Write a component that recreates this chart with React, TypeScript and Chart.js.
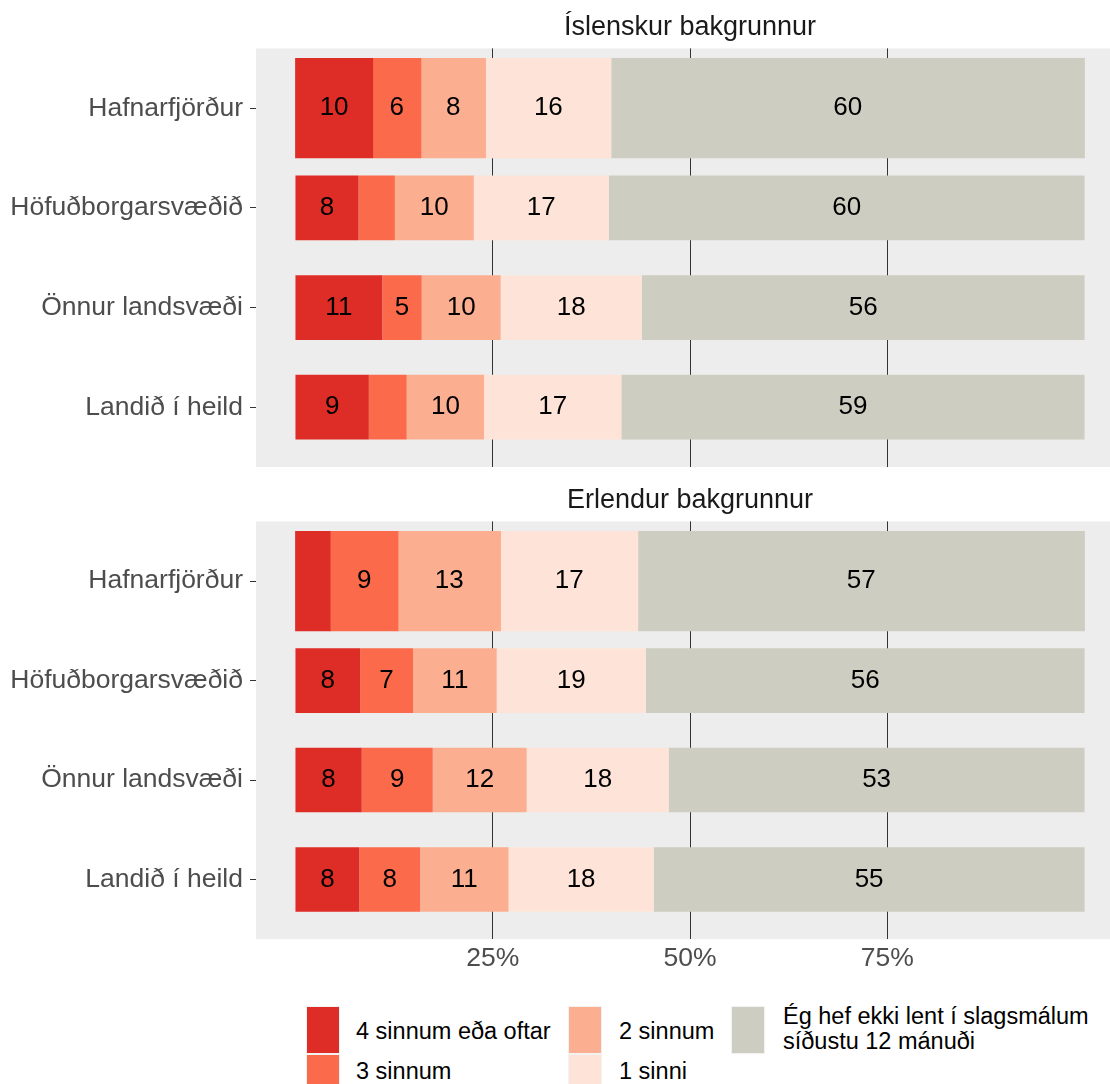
import React, { useEffect, useRef } from "react";
import { Chart, registerables } from "chart.js";

Chart.register(...registerables);

// ---------- data ----------
const categories = ["Hafnarfjörður", "Höfuðborgarsvæðið", "Önnur landsvæði", "Landið í heild"];
const wideCategory = "Hafnarfjörður";
const seriesNames = [
  "4 sinnum eða oftar",
  "3 sinnum",
  "2 sinnum",
  "1 sinni",
  "Ég hef ekki lent í slagsmálum síðustu 12 mánuði",
];
const panelTitles = ["Íslenskur bakgrunnur", "Erlendur bakgrunnur"];

// Íslenskur bakgrunnur (percent, category order)
const islenskur4plus = [9.8, 8.0, 11.0, 9.3];
const islenskur3 = [6.1, 4.6, 5.0, 4.8];
const islenskur2 = [8.2, 10.0, 10.0, 9.8];
const islenskur1 = [15.9, 17.1, 17.9, 17.4];
const islenskurNone = [60.0, 60.3, 56.1, 58.7];

// Erlendur bakgrunnur
const erlendur4plus = [4.4, 8.2, 8.4, 8.1];
const erlendur3 = [8.6, 6.7, 9.0, 7.7];
const erlendur2 = [13.0, 10.6, 11.9, 11.2];
const erlendur1 = [17.4, 18.9, 18.0, 18.4];
const erlendurNone = [56.6, 55.6, 52.7, 54.6];

const xTickValues = [25, 50, 75];
const labelMinValue = 4.9;

// ---------- styles ----------
const FONT = "'Liberation Sans', Arial, Helvetica, sans-serif";
const seriesColors = ["#de2d26", "#fb6a4a", "#fcae91", "#fee4d8", "#cdcdc1"];
const PANEL_BG = "#ededed";
const CANVAS_W = 1124;

const panelBgPlugin = {
  id: "panelBg",
  beforeDraw(chart: any) {
    const { ctx, chartArea } = chart;
    ctx.save();
    ctx.fillStyle = PANEL_BG;
    ctx.fillRect(chartArea.left, chartArea.top, chartArea.right - chartArea.left, chartArea.bottom - chartArea.top);
    ctx.restore();
  },
};

const barLabelPlugin = {
  id: "barLabels",
  afterDatasetsDraw(chart: any) {
    const { ctx } = chart;
    ctx.save();
    ctx.font = `26px ${FONT}`;
    ctx.fillStyle = "#000000";
    ctx.textAlign = "center";
    ctx.textBaseline = "middle";
    chart.data.datasets.forEach((ds: any, di: number) => {
      const meta = chart.getDatasetMeta(di);
      meta.data.forEach((el: any, i: number) => {
        const v = ds.data[i].x;
        if (v < labelMinValue) return;
        const p = el.getProps(["x", "y", "base"], true);
        ctx.fillText(String(Math.round(v)), (p.x + p.base) / 2, p.y);
      });
    });
    ctx.restore();
  },
};

function buildDatasets(series: number[][]) {
  const out: any[] = [];
  for (const wide of [true, false]) {
    series.forEach((vals, s) => {
      out.push({
        label: seriesNames[s],
        data: categories
          .map((c, i) => ({ x: vals[i], y: i + 1, c }))
          .filter((d) => (d.c === wideCategory) === wide)
          .map((d) => ({ x: d.x, y: d.y })),
        backgroundColor: seriesColors[s],
        borderWidth: 0,
        barPercentage: wide ? 1.0 : 0.65,
        categoryPercentage: 1,
        stack: "all",
      });
    });
  }
  return out;
}

function Panel(props: { title: string; series: number[][]; showX: boolean; top: number; height: number }) {
  const ref = useRef<HTMLCanvasElement>(null);
  useEffect(() => {
    const chart = new Chart(ref.current as HTMLCanvasElement, {
      type: "bar",
      data: { datasets: buildDatasets(props.series) },
      plugins: [panelBgPlugin, barLabelPlugin],
      options: {
        indexAxis: "y",
        responsive: false,
        animation: false,
        devicePixelRatio: 1,
        layout: { padding: 0 },
        scales: {
          x: {
            type: "linear",
            min: -5,
            max: 105,
            stacked: true,
            offset: false,
            afterBuildTicks: (scale: any) => {
              scale.ticks = xTickValues.map((v) => ({ value: v }));
            },
            afterFit: (scale: any) => {
              if (!props.showX) scale.height = 0;
              scale.paddingLeft = 0;
              scale.paddingRight = 0;
            },
            ticks: {
              display: props.showX,
              padding: 4,
              color: "#4d4d4d",
              font: { family: FONT, size: 26.5 },
              callback: (v: any) => `${v}%`,
              autoSkip: false,
              maxRotation: 0,
            },
            grid: {
              display: true,
              offset: false,
              drawOnChartArea: true,
              drawTicks: false,
              color: "#333333",
              lineWidth: 1,
            },
            border: { display: false },
          },
          y: {
            type: "linear",
            min: 0.4,
            max: 4.6,
            reverse: true,
            stacked: true,
            offset: false,
            afterBuildTicks: (scale: any) => {
              scale.ticks = categories.map((_, i) => ({ value: i + 1 }));
            },
            afterFit: (scale: any) => {
              scale.width = 256;
              scale.paddingTop = 0;
              scale.paddingBottom = 0;
            },
            ticks: {
              padding: 7,
              color: "#4d4d4d",
              font: { family: FONT, size: 26.5 },
              callback: (v: any) => categories[Math.round(v) - 1] ?? "",
              autoSkip: false,
            },
            grid: {
              display: true,
              offset: false,
              drawOnChartArea: false,
              drawTicks: true,
              tickLength: 6,
              tickColor: "#333333",
              tickWidth: 1,
            },
            border: { display: false },
          },
        },
        plugins: {
          legend: { display: false },
          tooltip: { enabled: false },
          title: {
            display: true,
            text: props.title,
            fullSize: false,
            color: "#1a1a1a",
            font: { family: FONT, size: 27, weight: "normal" },
            padding: { top: 11.5, bottom: 4.5 },
          },
        },
      } as any,
    });
    return () => chart.destroy();
  }, []);
  return (
    <canvas
      ref={ref}
      width={CANVAS_W}
      height={props.height}
      style={{ position: "absolute", left: 0, top: props.top, width: CANVAS_W, height: props.height, display: "block" }}
    />
  );
}

function Legend() {
  const keyPos = [
    { left: 306, top: 1006 },
    { left: 306, top: 1054 },
    { left: 568, top: 1006 },
    { left: 568, top: 1054 },
    { left: 731, top: 1006 },
  ];
  const textPos = [
    { left: 356, top: 1018.6 },
    { left: 356, top: 1058.6 },
    { left: 619, top: 1018.6 },
    { left: 619, top: 1058.6 },
    { left: 783, top: 1004.3 },
  ];
  const lastWords = seriesNames[4].split(" ");
  const labelLines = [
    [seriesNames[0]],
    [seriesNames[1]],
    [seriesNames[2]],
    [seriesNames[3]],
    [lastWords.slice(0, 6).join(" "), lastWords.slice(6).join(" ")],
  ];
  return (
    <>
      {seriesNames.map((name, i) => (
        <div
          key={"k" + i}
          style={{
            position: "absolute",
            left: keyPos[i].left,
            top: keyPos[i].top,
            width: 34,
            height: 48,
            background: "#f2f2f2",
          }}
        >
          <div style={{ position: "absolute", left: 1, top: 1, width: 32, height: 46, background: seriesColors[i] }} />
        </div>
      ))}
      {seriesNames.map((name, i) => (
        <div
          key={"t" + i}
          style={{
            position: "absolute",
            left: textPos[i].left,
            top: textPos[i].top,
            fontFamily: FONT,
            fontSize: "23.5px",
            lineHeight: "25px",
            color: "#000000",
            whiteSpace: "nowrap",
          }}
        >
          {labelLines[i].map((l, j) => (
            <div key={j}>{l}</div>
          ))}
        </div>
      ))}
    </>
  );
}

export default function App() {
  const islenskur = [islenskur4plus, islenskur3, islenskur2, islenskur1, islenskurNone];
  const erlendur = [erlendur4plus, erlendur3, erlendur2, erlendur1, erlendurNone];
  return (
    <div
      style={{
        position: "absolute",
        left: 0,
        top: 0,
        width: 1110,
        height: 1084,
        overflow: "hidden",
        background: "#ffffff",
      }}
    >
      <Panel title={panelTitles[0]} series={islenskur} showX={false} top={0} height={467} />
      <Panel title={panelTitles[1]} series={erlendur} showX={true} top={473} height={506} />
      <Legend />
    </div>
  );
}
